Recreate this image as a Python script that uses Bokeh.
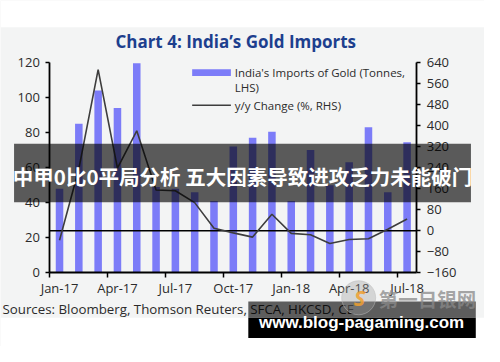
from bokeh.plotting import figure
from bokeh.models import (Range1d, LinearAxis, FixedTicker, ColumnDataSource)
from bokeh.core.properties import value
from bokeh.embed import file_html
from bokeh.resources import INLINE

# ---- data -------------------------------------------------------------
months = ["Jan-17", "Feb-17", "Mar-17", "Apr-17", "May-17", "Jun-17", "Jul-17",
          "Aug-17", "Sep-17", "Oct-17", "Nov-17", "Dec-17", "Jan-18", "Feb-18",
          "Mar-18", "Apr-18", "May-18", "Jun-18", "Jul-18"]
imports_tonnes = [48, 85, 104, 94, 119.5, 49, 48, 46, 41, 72, 77, 80.5,
                  41, 70, 50, 63, 83, 46, 74.5]
yoy_change_pct = [-36, 235, 612, 238, 380, 155, 152, 107, 10, -8, -24, 63,
                  -10, -15, -48, -33, -30, 6, 45]
labelled_months = ["Jan-17", "Apr-17", "Jul-17", "Oct-17", "Jan-18", "Apr-18", "Jul-18"]
lhs_ticks = [0, 20, 40, 60, 80, 100, 120]
rhs_ticks = [-160, -80, 0, 80, 160, 240, 320, 400, 480, 560, 640]

title_text = "Chart 4: India\u2019s Gold Imports"
legend_bar = ["India's Imports of Gold (Tonnes,", "LHS)"]
legend_line = "y/y Change (%, RHS)"
source_text = "Sources: Bloomberg, Thomson Reuters, SFCA, HKCSD, CE"
banner_text = "中甲0比0平局分析 五大因素导致进攻乏力未能破门"
url_text = "www.blog-pagaming.com"
mark_text = "第一日银网"

# ---- styles / layout --------------------------------------------------
BG = "#f3f4f4"
BAR = "#7c7cf8"
LINE = "#3d3d3d"
TXT = "#2b2b2b"
FONT = "Open Sans"
W, H = 484, 346                 # canvas size
REF_W, REF_H = 500, 362         # reference picture size
PL, PR, PT, PB = 51, 430, 64.7, 285   # plot area in reference pixels

N = len(months)
slot = (PR - PL) / N
x_start = -0.5 - PL / slot
x_end = N - 0.5 + (REF_W - PR) / slot

lo, hi = lhs_ticks[0], lhs_ticks[-1]
ppu = (PB - PT) / (hi - lo)
y_start = lo - (REF_H - PB) / ppu
y_end = hi + PT / ppu

rlo, rhi = rhs_ticks[0], rhs_ticks[-1]
rppu = (PB - PT) / (rhi - rlo)
r_start = rlo - (REF_H - PB) / rppu
r_end = rhi + PT / rppu

xs = list(range(N))
src = ColumnDataSource(dict(x=xs, imports=imports_tonnes, yoy=yoy_change_pct))

p = figure(width=W, height=H, output_backend="svg", toolbar_location=None,
           x_range=Range1d(x_start, x_end), y_range=Range1d(y_start, y_end),
           x_axis_type=None, y_axis_type=None,
           min_border=0, min_border_left=0, min_border_right=0,
           min_border_top=0, min_border_bottom=0,
           background_fill_color=BG, border_fill_color=BG, outline_line_color=None)
p.extra_y_ranges = {"rhs": Range1d(r_start, r_end), "py": Range1d(REF_H, 0)}
p.extra_x_ranges = {"px": Range1d(0, REF_W)}

def box(x0, x1, y0, y1, color, alpha=1.0, level="glyph"):
    p.quad(left=[x0], right=[x1], top=[y0], bottom=[y1], x_range_name="px",
           y_range_name="py", fill_color=color, fill_alpha=alpha, line_color=None,
           level=level)

def text(x, y, t, size, color=TXT, align="left", font=FONT, style="normal",
         alpha=1.0, level="glyph"):
    p.text(x=[x], y=[y], text=[t], x_range_name="px", y_range_name="py",
           text_font=value(font), text_font_size=value(size),
           text_color=color, text_font_style=style, text_align=align,
           text_baseline="middle", text_alpha=alpha, level=level)

# white page strips
box(0, REF_W, 0, 28, "white", level="underlay")
box(0, REF_W, 332, REF_H, "white", level="underlay")

def style_axis(ax):
    ax.axis_line_color = "black"
    ax.axis_line_width = 1.8
    ax.major_tick_line_color = "black"
    ax.major_tick_line_width = 1.5
    ax.major_tick_in = 0
    ax.major_tick_out = 4
    ax.minor_tick_line_color = None
    ax.major_label_text_font = FONT
    ax.major_label_text_font_size = "13px"
    ax.major_label_text_color = TXT
    ax.major_label_standoff = 6

left = LinearAxis(ticker=FixedTicker(ticks=lhs_ticks), fixed_location=-0.5,
                  bounds=(lo, hi))
style_axis(left)
p.add_layout(left, "left")

right = LinearAxis(y_range_name="rhs", ticker=FixedTicker(ticks=rhs_ticks),
                   fixed_location=N - 0.5, bounds=(rlo, rhi))
style_axis(right)
p.add_layout(right, "right")

label_pos = [months.index(m) for m in labelled_months]
bottom = LinearAxis(ticker=FixedTicker(ticks=label_pos,
                                       minor_ticks=[i - 0.5 for i in label_pos]),
                    major_label_overrides={i: months[i] for i in label_pos},
                    fixed_location=lo, bounds=(-0.5, N - 0.5))
style_axis(bottom)
bottom.major_tick_line_color = None
bottom.minor_tick_line_color = "black"
bottom.minor_tick_line_width = 1.5
bottom.minor_tick_in = 0
bottom.minor_tick_out = 5
bottom.major_label_standoff = 1
p.add_layout(bottom, "below")

# ---- data marks ---------------------------------------------------------
p.vbar(x="x", top="imports", width=0.39, bottom=0, source=src,
       fill_color=BAR, line_color=None)
p.segment(x0=[-0.5], x1=[N - 0.5], y0=[0], y1=[0], y_range_name="rhs",
          line_color="black", line_width=1.6)
p.line(x="x", y="yoy", source=src, y_range_name="rhs",
       line_color=LINE, line_width=1.6)

# ---- title, legend, source ------------------------------------------------
text(243, 43, title_text, "17px", color="#1d3f8e", align="center", style="bold")

box(198, 238, 72, 79, BAR)
box(198, 238, 108.7, 110.3, LINE)
text(242, 75.5, legend_bar[0], "11.5px")
text(242, 91, legend_bar[1], "11.5px")
text(242, 110, legend_line, "11.5px")

text(2, 323, source_text, "13.3px")

# ---- overlays -------------------------------------------------------------
box(14, 486, 150, 211, "black", alpha=0.63, level="overlay")
text(250, 183.5, banner_text, "20.5px", color="white", align="center",
     font="Noto Sans CJK SC", style="bold", level="overlay")

box(256, 491, 315, 332, "black", alpha=0.62, level="overlay")
box(256, 491, 332, 353, "black", level="overlay")
text(373, 337, url_text, "17px", color="white", align="center",
     font="Liberation Sans", style="bold", level="overlay")

p.scatter(x=[370], y=[311], x_range_name="px", y_range_name="py", size=34,
          marker="circle", fill_color="#9a9a9a", fill_alpha=0.35,
          line_color="#bbbbbb", line_alpha=0.5, level="overlay")
text(371, 310, "S", "22px", color="#f0a030", align="center", style="bold italic",
     alpha=0.85, level="overlay")
text(441, 312, mark_text, "19.5px", color="#8a8a8a", align="center",
     font="Noto Sans CJK SC", style="bold", alpha=0.75, level="overlay")

open("out.html", "w").write(file_html(p, INLINE))
